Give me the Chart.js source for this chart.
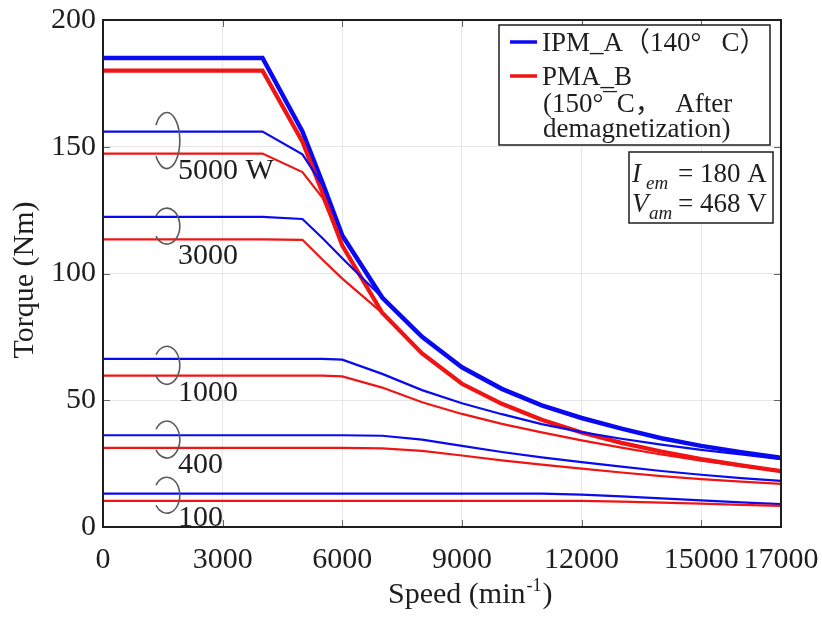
<!DOCTYPE html>
<html>
<head>
<meta charset="utf-8">
<script src="https://cdn.jsdelivr.net/npm/chart.js@4.4.1/dist/chart.umd.min.js"></script>
<style>
  html, body { margin: 0; padding: 0; background: #fff; }
  #wrap { width: 822px; height: 617px; }
</style>
</head>
<body>
<div id="wrap"><canvas id="torque" width="822" height="617"></canvas></div>
<script>
// speed points (min-1)
var speed = [0, 4000, 5000, 5500, 6000, 7000, 8000, 9000, 10000, 11000, 12000, 13000, 14000, 15000, 16000, 17000];
var speedTicks = [0, 3000, 6000, 9000, 12000, 15000, 17000];

// IPM_A (140 C) torque, Nm
var ipmMax   = [185, 185, 156, 136, 115, 90.5, 75, 63, 54.5, 48, 43, 38.8, 35, 32, 29.5, 27.3];
var ipm5000  = [156, 156, 147, 135, 115, 90.5, 75, 63, 54.5, 48, 43, 38.8, 35, 32, 29.5, 27.3];
var ipm3000  = [122.3, 122.3, 121.5, 114, 106, 90.5, 75, 63, 54.5, 48, 43, 38.8, 35, 32, 29.5, 27.3];
var ipm1000  = [66.3, 66.3, 66.3, 66.3, 66, 60.4, 54, 48.8, 44.5, 40.6, 37.4, 34.8, 32.5, 30.4, 28.6, 26.8];
var ipm400   = [36.2, 36.2, 36.2, 36.2, 36.2, 36, 34.5, 32, 29.6, 27.5, 25.6, 23.8, 22.1, 20.6, 19.3, 18.2];
var ipm100   = [13.2, 13.2, 13.2, 13.2, 13.2, 13.2, 13.2, 13.2, 13.2, 13.2, 12.8, 12.1, 11.3, 10.5, 9.7, 9];

// PMA_B (150 C, after demagnetization) torque, Nm
var pmaMax   = [180, 180, 152, 132, 111, 84.5, 68.5, 56.5, 48.6, 42.3, 37.3, 33.2, 29.8, 26.8, 24.3, 22];
var pma5000  = [147.3, 147.3, 140, 130, 111, 84.5, 68.5, 56.5, 48.6, 42.3, 37.3, 33.2, 29.8, 26.8, 24.3, 22];
var pma3000  = [113.5, 113.5, 113.3, 105.5, 98, 84.5, 68.5, 56.5, 48.6, 42.3, 37.3, 33.2, 29.8, 26.8, 24.3, 22];
var pma1000  = [59.7, 59.7, 59.7, 59.7, 59.4, 55, 49.2, 44.6, 40.7, 37.3, 34.2, 31.3, 28.6, 26.2, 24, 22];
var pma400   = [31.2, 31.2, 31.2, 31.2, 31.2, 31, 30, 28.2, 26.3, 24.6, 23, 21.5, 20.1, 18.9, 17.9, 17];
var pma100   = [10.3, 10.3, 10.3, 10.3, 10.3, 10.3, 10.3, 10.3, 10.3, 10.3, 10.3, 10, 9.6, 9.2, 8.7, 8.3];

// output power groups, each pair is circled and tagged
var powerTags = ['5000 W', '3000', '1000', '400', '100'];
var ipmGroups = [ipm5000, ipm3000, ipm1000, ipm400, ipm100];
var pmaGroups = [pma5000, pma3000, pma1000, pma400, pma100];

var BLUE = '#0a0af0';
var RED = '#f01414';
var INK = '#1e1e1e';
var SERIF = '"Liberation Serif", "Times New Roman", serif';
var SERIF_CJK = '"Liberation Serif", "Noto Sans CJK SC", serif';

function pts(vals) {
	return speed.map(function(s, i) { return { x: s, y: vals[i] }; });
}

function line(vals, color, width) {
	return {
		data: pts(vals),
		borderColor: color,
		borderWidth: width,
		pointRadius: 0,
		tension: 0,
		fill: false
	};
}

var datasets = [];
// thin constant-power lines first, the max torque curves on top
for (var i = ipmGroups.length - 1; i >= 0; i--) {
	datasets.push(line(pmaGroups[i], RED, 2.2));
	datasets.push(line(ipmGroups[i], BLUE, 2.2));
}
datasets.push(line(pmaMax, RED, 4.2));
datasets.push(line(ipmMax, BLUE, 4.5));

// frame, inner ticks, circles, tags, legend boxes, axis titles
var decor = {
	id: 'decor',
	beforeDatasetsDraw: function(chart) {
		var ctx = chart.ctx, a = chart.chartArea;
		var xs = chart.scales.x, ys = chart.scales.y;
		ctx.save();
		ctx.strokeStyle = '#666';
		ctx.lineWidth = 1;
		ctx.beginPath();
		ys.ticks.forEach(function(t) {
			var p = Math.round(ys.getPixelForValue(t.value)) + 0.5;
			ctx.moveTo(a.left, p); ctx.lineTo(a.left + 7, p);
			ctx.moveTo(a.right, p); ctx.lineTo(a.right - 7, p);
		});
		xs.ticks.forEach(function(t) {
			var p = Math.round(xs.getPixelForValue(t.value)) + 0.5;
			ctx.moveTo(p, a.bottom); ctx.lineTo(p, a.bottom - 7);
			ctx.moveTo(p, a.top); ctx.lineTo(p, a.top + 7);
		});
		ctx.stroke();
		ctx.restore();
	},
	afterDatasetsDraw: function(chart) {
		var ctx = chart.ctx, a = chart.chartArea;
		var xs = chart.scales.x, ys = chart.scales.y;
		ctx.save();

		// frame
		ctx.strokeStyle = INK;
		ctx.lineWidth = 2;
		ctx.strokeRect(a.left, a.top, a.right - a.left, a.bottom - a.top);

		// circles round each pair, with the power tag below
		var arcH = [28, 18, 19, 18.5, 18];
		var cx = xs.getPixelForValue(1600);
		var tx = xs.getPixelForValue(1880);
		ctx.font = '30px ' + SERIF;
		ctx.textAlign = 'left';
		ctx.textBaseline = 'alphabetic';
		for (var k = 0; k < powerTags.length; k++) {
			var yA = ys.getPixelForValue(ipmGroups[k][0]);
			var yB = ys.getPixelForValue(pmaGroups[k][0]);
			ctx.strokeStyle = '#5a5a5a';
			ctx.lineWidth = 1.6;
			ctx.beginPath();
			ctx.ellipse(cx, (yA + yB) / 2 - 2, 13, arcH[k], 0, -2.55, 2.55);
			ctx.stroke();
			ctx.fillStyle = INK;
			ctx.fillText(powerTags[k], tx, yB + 25);
		}

		// legend
		ctx.fillStyle = '#fff';
		ctx.fillRect(499, 25, 271, 120);
		ctx.strokeStyle = INK;
		ctx.lineWidth = 1.5;
		ctx.strokeRect(499, 25, 271, 120);
		ctx.lineWidth = 3.5;
		ctx.strokeStyle = BLUE;
		ctx.beginPath(); ctx.moveTo(510, 42); ctx.lineTo(537, 42); ctx.stroke();
		ctx.strokeStyle = RED;
		ctx.beginPath(); ctx.moveTo(510, 76); ctx.lineTo(537, 76); ctx.stroke();
		ctx.fillStyle = INK;
		ctx.font = '27px ' + SERIF_CJK;
		ctx.fillText('IPM_A（140°   C）', 542, 51);
		ctx.fillText('PMA_B', 542, 85);
		ctx.fillText('(150°¯C，  After', 543, 112);
		ctx.fillText('demagnetization)', 543, 137);

		// current / voltage limits
		ctx.fillStyle = '#fff';
		ctx.fillRect(629, 152, 144, 71);
		ctx.lineWidth = 1.5;
		ctx.strokeStyle = INK;
		ctx.strokeRect(629, 152, 144, 71);
		ctx.fillStyle = INK;
		ctx.font = 'italic 27px ' + SERIF;
		ctx.fillText('I', 632, 182);
		ctx.fillText('V', 632, 212);
		ctx.font = 'italic 19px ' + SERIF;
		ctx.fillText('em', 646, 189);
		ctx.fillText('am', 649, 219);
		ctx.font = '27px ' + SERIF;
		ctx.fillText('= 180 A', 678, 182);
		ctx.fillText('= 468 V', 678, 212);

		// axis titles
		ctx.font = '30px ' + SERIF;
		ctx.fillText('Speed (min', 388, 603);
		var w = ctx.measureText('Speed (min').width;
		ctx.font = '18px ' + SERIF;
		ctx.fillText('-1', 388 + w + 1, 591);
		var w2 = ctx.measureText('-1').width;
		ctx.font = '30px ' + SERIF;
		ctx.fillText(')', 388 + w + w2 + 2, 603);

		ctx.translate(25, 280);
		ctx.rotate(-Math.PI / 2);
		ctx.textAlign = 'center';
		ctx.textBaseline = 'middle';
		ctx.fillText('Torque (Nm)', 0, 0);
		ctx.restore();
	}
};

new Chart(document.getElementById('torque'), {
	type: 'line',
	data: { datasets: datasets },
	plugins: [decor],
	options: {
		responsive: false,
		animation: false,
		devicePixelRatio: 1,
		layout: { padding: { left: 51, right: 41, top: 20, bottom: 39 } },
		plugins: {
			legend: { display: false },
			tooltip: { enabled: false }
		},
		scales: {
			x: {
				type: 'linear',
				min: 0,
				max: 17000,
				afterBuildTicks: function(axis) {
					axis.ticks = speedTicks.map(function(v) { return { value: v }; });
				},
				ticks: {
					padding: 0,
					maxRotation: 0,
					autoSkip: false,
					color: INK,
					font: { family: SERIF, size: 30 },
					callback: function(v) { return String(v); }
				},
				// outer tick marks are invisible, they only set the label gap
				grid: { color: '#e6e6e6', drawTicks: true, tickLength: 15, tickColor: 'rgba(0,0,0,0)' },
				border: { display: false }
			},
			y: {
				min: 0,
				max: 200,
				ticks: {
					stepSize: 50,
					padding: 0,
					color: INK,
					font: { family: SERIF, size: 30 }
				},
				grid: { color: '#e6e6e6', drawTicks: true, tickLength: 7, tickColor: 'rgba(0,0,0,0)' },
				border: { display: false }
			}
		}
	}
});
</script>
</body>
</html>
